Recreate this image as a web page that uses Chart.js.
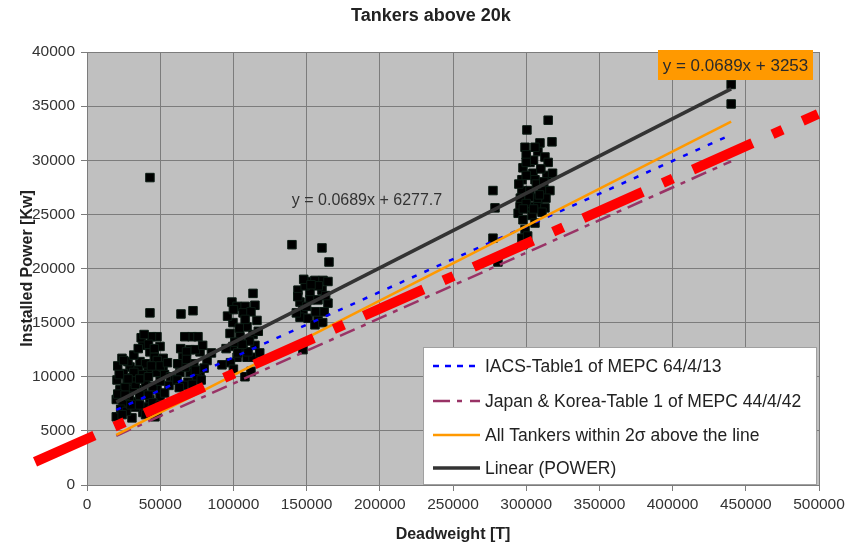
<!DOCTYPE html>
<html>
<head>
<meta charset="utf-8">
<title>Tankers above 20k</title>
<script src="https://cdn.jsdelivr.net/npm/chart.js@4.4.1/dist/chart.umd.min.js"></script>
<style>
  html, body { margin: 0; padding: 0; background: #ffffff; }
  canvas { display: block; }
</style>
</head>
<body>
<canvas id="chart" width="852" height="545"></canvas>
<script>
// ---- Ship data: deadweight [t] and installed power [kW] ----
const deadweight = [
  // 20k - 60k
  43000, 64200, 72400, 23900, 47800, 44000, 38200, 43000, 49900, 36200,
  29400, 20500, 27300, 34200, 41700, 47800, 51900, 22500, 31400, 38200,
  47800, 20000, 24600, 34200, 43000, 49900, 20000, 30700, 38200, 47800,
  26000, 29000, 33000, 36000, 40000, 42000, 45000, 46000, 40000, 35000,
  31000, 25000, 23000, 27000, 33000, 41000, 45000, 50000, 52000, 53000,
  22000, 28000, 37000, 57000, 60000, 56000, 46400, 43000,
  21000, 21000, 25000, 32000, 35000, 39000, 42000, 46000, 48000, 50000,
  44000, 38000, 30000, 36000, 40000, 44000, 26000, 32000, 28000, 50000,
  53000, 55000, 36000, 42000, 24000,
  // 60k - 85k
  71700, 66800, 75800, 70400, 77200, 82000, 65600, 63500, 70400, 77200,
  61500, 69000, 75100, 67000, 73000, 80000, 66000, 72000,
  62000, 64000, 68000, 74000, 79000, 68000, 74000, 78000, 63000, 85000,
  // 90k - 120k
  113400, 99000, 102500, 108000, 114700, 106600, 99700, 109300, 116100, 97700,
  104500, 113400, 99700, 106600, 114700, 102500, 109300, 92200, 113400, 107900,
  101000, 111000, 104000, 103000, 110000, 98000,
  96000, 100000, 112000, 117000, 95000, 118000, 106000, 100000, 112000, 108000,
  // 140k - 165k
  140000, 160500, 165300, 150300, 155700, 161200, 164600, 144100, 152300, 160500,
  145500, 152300, 157800, 164600, 147500, 145500, 151000, 157800, 155700, 147500,
  149000, 158000, 163000,
  144000, 150000, 156000, 162000, 148000, 153000, 143000, 161000,
  // 275k - 320k
  315000, 300500, 309400, 317600, 299200, 308000, 312800, 315000, 302600, 297800,
  304600, 314200, 297100, 306000, 277300, 297100, 302600, 310800, 316200, 296000,
  302000, 308000, 313500, 295800, 302600, 308000, 312800, 278700, 294500, 304000,
  310800, 297800, 299200, 277300, 297100, 297800, 280700, 305000, 300000,
  306000, 300000, 310000, 307000, 300000, 305000, 298000, 306000, 301000, 312000,
  318000, 295000, 300000, 309000,
  // largest units
  440000, 440000
];
const installedPower = [
  15900, 15800, 16100, 11700, 13700, 13700, 12900, 12300, 12800, 11400,
  10900, 9700, 9500, 10000, 10600, 10400, 10900, 8800, 8800, 8800,
  8800, 7900, 7600, 7700, 7900, 8100, 6300, 6200, 6700, 6700,
  9000, 8200, 9300, 8300, 9400, 8300, 9100, 11800, 11200, 10600,
  9900, 10300, 7000, 6800, 7200, 7200, 7600, 9600, 11700, 10200,
  10200, 11400, 13600, 10000, 9700, 9200, 6300, 28400,
  8400, 11000, 11500, 12000, 12600, 13900, 13000, 12600, 11500, 11000,
  11000, 10200, 7400, 7400, 6500, 6900, 8300, 10400, 9800, 7400,
  8500, 11300, 9800, 10000, 6500,
  13700, 13700, 13700, 12500, 12300, 11500, 11800, 10400, 10400, 10400,
  9700, 9500, 9900, 10900, 11200, 10800, 9200, 9300,
  11200, 12600, 12300, 12500, 12900, 11600, 10600, 9700, 9000, 12200,
  17700, 16900, 16500, 16500, 16600, 15900, 15000, 14600, 15200, 14000,
  13700, 13900, 12800, 12700, 12900, 11800, 11800, 11100, 11800, 10000,
  13200, 13300, 14500, 12200, 12300, 11300,
  15600, 16200, 16000, 14200, 12600, 12200, 13000, 10700, 10500, 15300,
  22200, 21900, 20600, 18800, 18900, 18900, 18800, 18000, 17800, 18000,
  16900, 17100, 17100, 16800, 16200, 15500, 15400, 15200, 14800, 12500,
  18400, 18400, 17500,
  17400, 16500, 16000, 16000, 19000, 18500, 15900, 15000,
  33700, 32800, 31600, 31700, 31200, 30800, 30300, 29800, 29800, 29300,
  28800, 28600, 28200, 28200, 27200, 27200, 27200, 27200, 27200, 26500,
  26600, 26500, 26500, 25700, 25700, 25700, 25600, 25600, 25100, 24900,
  25200, 24500, 23600, 22800, 22800, 22200, 20600, 30000, 30500,
  31200, 29800, 29200, 27800, 26000, 25500, 25500, 24200, 23000, 28000,
  28800, 27800, 28600, 26800,
  37000, 35200
];

// ---- Reference lines (end points over the fleet range) ----
const lineDwt       = [20000, 440000];
const iacsPower     = [6946, 32356];   // IACS-Table1 of MEPC 64/4/13
const japanKorea    = [4550, 29900];   // Japan & Korea-Table 1 of MEPC 44/4/42
const twoSigmaPower = [4631, 33569];   // y = 0.0689x + 3253
const trendPower    = [7656, 36594];   // y = 0.0689x + 6277.7
const limitDwt      = [-35500, 499300];
const limitPower    = [2130, 34270];

// ---- Axis ticks ----
const xTicks = [0, 50000, 100000, 150000, 200000, 250000, 300000, 350000, 400000, 450000, 500000];
const yTicks = [0, 5000, 10000, 15000, 20000, 25000, 30000, 35000, 40000];

const FONT = "'Liberation Sans', Arial, Helvetica, sans-serif";

const pts = (xs, ys) => xs.map((x, i) => ({ x: x, y: ys[i] }));

const legendRows = [
  { label: 'IACS-Table1 of MEPC 64/4/13', color: '#0000ff', width: 2.5, dash: [6, 6] },
  { label: 'Japan & Korea-Table 1 of MEPC 44/4/42', color: '#993366', width: 2.5, dash: [17, 7, 5, 8] },
  { label: 'All Tankers within 2\u03c3 above the line', color: '#ff9900', width: 2.5, dash: [] },
  { label: 'Linear (POWER)', color: '#333333', width: 3.5, dash: [] }
];

const plotBackground = {
  id: 'plotBackground',
  beforeDraw(chart) {
    const { ctx, chartArea: a } = chart;
    ctx.save();
    ctx.fillStyle = '#c0c0c0';
    ctx.fillRect(a.left, a.top, a.right - a.left, a.bottom - a.top);
    ctx.restore();
  }
};

const overlays = {
  id: 'overlays',
  afterDraw(chart) {
    const ctx = chart.ctx;
    ctx.save();

    // chart title
    ctx.fillStyle = '#222222';
    ctx.font = 'bold 18px ' + FONT;
    ctx.textAlign = 'center';
    ctx.textBaseline = 'middle';
    ctx.fillText('Tankers above 20k', 431, 16);

    // trend equation
    ctx.fillStyle = '#333333';
    ctx.font = '16px ' + FONT;
    ctx.fillText('y = 0.0689x + 6277.7', 367, 201);

    // 2-sigma equation box
    ctx.fillStyle = '#ff9900';
    ctx.fillRect(658, 50, 155, 30);
    ctx.fillStyle = '#2a2a2a';
    ctx.font = '17px ' + FONT;
    ctx.fillText('y = 0.0689x + 3253', 735.5, 66);

    // legend
    const lx = 423, ly = 347, lw = 394, lh = 138;
    ctx.fillStyle = '#ffffff';
    ctx.fillRect(lx, ly, lw, lh);
    ctx.strokeStyle = '#a0a0a0';
    ctx.lineWidth = 1;
    ctx.strokeRect(lx + 0.5, ly + 0.5, lw - 1, lh - 1);
    const rowY = [366, 401, 435, 468];
    ctx.textAlign = 'left';
    ctx.font = '17.5px ' + FONT;
    legendRows.forEach((r, i) => {
      const y = rowY[i];
      ctx.beginPath();
      ctx.setLineDash(r.dash);
      ctx.lineCap = 'butt';
      ctx.strokeStyle = r.color;
      ctx.lineWidth = r.width;
      ctx.moveTo(433, y);
      ctx.lineTo(480, y);
      ctx.stroke();
      ctx.setLineDash([]);
      ctx.fillStyle = '#222222';
      ctx.fillText(r.label, 485, y + 1);
    });
    ctx.restore();
  }
};

new Chart(document.getElementById('chart'), {
  type: 'scatter',
  data: {
    datasets: [
      {
        label: 'Limit',
        data: pts(limitDwt, limitPower),
        showLine: true,
        borderColor: '#ff0000',
        borderWidth: 10,
        borderDash: [65, 22, 11, 22],
        borderCapStyle: 'butt',
        pointRadius: 0,
        clip: false,
        order: 0
      },
      {
        label: 'Linear (POWER)',
        data: pts(lineDwt, trendPower),
        showLine: true,
        borderColor: '#333333',
        borderWidth: 3.5,
        pointRadius: 0,
        order: 1
      },
      {
        label: 'All Tankers within 2\u03c3 above the line',
        data: pts(lineDwt, twoSigmaPower),
        showLine: true,
        borderColor: '#ff9900',
        borderWidth: 2.5,
        pointRadius: 0,
        order: 2
      },
      {
        label: 'IACS-Table1 of MEPC 64/4/13',
        data: pts(lineDwt, iacsPower),
        showLine: true,
        borderColor: '#0000ff',
        borderWidth: 2.5,
        borderDash: [5, 8.5],
        pointRadius: 0,
        order: 3
      },
      {
        label: 'Japan & Korea-Table 1 of MEPC 44/4/42',
        data: pts(lineDwt, japanKorea),
        showLine: true,
        borderColor: '#993366',
        borderWidth: 2.5,
        borderDash: [16, 7, 5, 7],
        pointRadius: 0,
        order: 4
      },
      {
        label: 'POWER',
        data: pts(deadweight, installedPower),
        pointStyle: 'rect',
        pointRadius: 6,
        backgroundColor: '#000000',
        borderColor: '#0a1a12',
        borderWidth: 1,
        order: 10
      }
    ]
  },
  options: {
    responsive: false,
    animation: false,
    devicePixelRatio: 1,
    layout: { padding: { left: 0, right: 33, top: 52, bottom: 0 } },
    plugins: {
      legend: { display: false },
      title: { display: false },
      tooltip: { enabled: false }
    },
    scales: {
      x: {
        type: 'linear',
        min: 0,
        max: 500000,
        afterBuildTicks: s => { s.ticks = xTicks.map(v => ({ value: v })); },
        afterFit: s => { s.height = 60; },
        ticks: {
          autoSkip: false,
          maxRotation: 0,
          padding: 4,
          color: '#333333',
          font: { family: FONT, size: 15.5 },
          callback: v => String(v)
        },
        grid: { color: '#7c7c7c', lineWidth: 1, tickLength: 6 },
        border: { color: '#7c7c7c' },
        title: {
          display: true,
          text: 'Deadweight [T]',
          color: '#222222',
          font: { family: FONT, size: 16, weight: 'bold' },
          padding: { top: 0, bottom: 1 }
        }
      },
      y: {
        type: 'linear',
        min: 0,
        max: 40000,
        afterBuildTicks: s => { s.ticks = yTicks.map(v => ({ value: v })); },
        afterFit: s => { s.width = 87; },
        ticks: {
          padding: 6,
          color: '#333333',
          font: { family: FONT, size: 15.5 },
          callback: v => String(v)
        },
        grid: { color: '#7c7c7c', lineWidth: 1, tickLength: 6 },
        border: { color: '#7c7c7c' },
        title: {
          display: true,
          text: 'Installed Power [Kw]',
          color: '#222222',
          font: { family: FONT, size: 16, weight: 'bold' },
          padding: { top: 18, bottom: 0 }
        }
      }
    }
  },
  plugins: [plotBackground, overlays]
});
</script>
</body>
</html>
